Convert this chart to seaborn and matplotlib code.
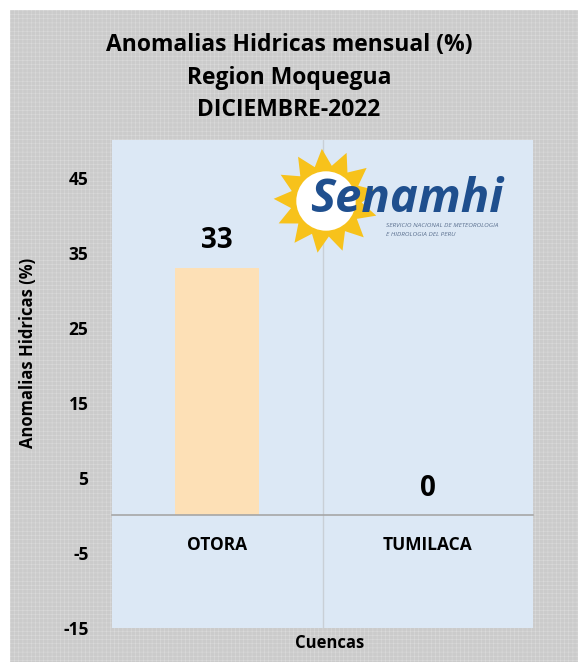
import numpy as np
import pandas as pd
import seaborn as sns
import matplotlib.pyplot as plt
from matplotlib.patches import Rectangle, Polygon, Circle

# data
cuencas = ['OTORA', 'TUMILACA']
anomalia = [33, 0]
yticks = [-15, -5, 5, 15, 25, 35, 45]

df = pd.DataFrame({'cuenca': cuencas, 'anomalia': anomalia})

sns.set_theme(style='white')
plt.rcParams['font.family'] = ['Open Sans', 'DejaVu Sans']
plt.rcParams['hatch.linewidth'] = 0.4
plt.rcParams['text.color'] = 'black'
plt.rcParams['axes.labelcolor'] = 'black'
plt.rcParams['ytick.color'] = 'black'
plt.rcParams['xtick.color'] = 'black'

fig = plt.figure(figsize=(5.78, 6.62), dpi=100)
fig.patch.set_facecolor('white')

# gray textured frame
frame = Rectangle((10 / 578, 0), 1, 1 - 10 / 662, transform=fig.transFigure,
                  facecolor='#cbcbcb', edgecolor='#dadada', hatch='++++',
                  linewidth=0, zorder=-10)
fig.patches.append(frame)

ax = fig.add_axes([112 / 578, 34 / 662, 421 / 578, 488 / 662])
ax.set_facecolor('#dce8f5')

sns.barplot(data=df, x='cuenca', y='anomalia', color='#fde0b6',
            width=0.4, saturation=1, ax=ax, zorder=3, edgecolor='none')

ax.set_ylim(-15, 50)
ax.set_xlim(-0.5, 1.5)
ax.set_yticks(yticks)
ax.set_yticklabels([str(t) for t in yticks], fontsize=12.5, fontweight='bold')
ax.tick_params(axis='y', length=0, pad=17)

for s in ['top', 'right', 'left']:
    ax.spines[s].set_visible(False)
ax.spines['bottom'].set_position(('data', 0))
ax.spines['bottom'].set_color('#a6a6a6')
ax.spines['bottom'].set_linewidth(1.2)
ax.spines['bottom'].set_zorder(4)
ax.tick_params(axis='x', length=0, pad=15)
for lbl in ax.get_xticklabels():
    lbl.set_fontsize(12.5)
    lbl.set_fontweight('bold')
ax.axvline(0.5, color='#c9cfd6', linewidth=1, zorder=1)

ax.bar_label(ax.containers[0], labels=[str(v) for v in anomalia],
             padding=9, fontsize=20, fontweight='bold', color='black')

ax.set_xlabel('')
ax.set_ylabel('Anomalias Hidricas (%)', fontsize=12, fontweight='bold')
ax.yaxis.set_label_coords(-0.178, 0.564)

fig.text(330 / 578, 1 - 643 / 662, 'Cuencas', ha='center', va='center',
         fontsize=12, fontweight='bold')

titles = ['Anomalias Hidricas mensual (%)', 'Region Moquegua', 'DICIEMBRE-2022']
for i, t in enumerate(titles):
    fig.text(289 / 578, 1 - (45 + 32.5 * i) / 662, t, ha='center', va='center',
             fontsize=16.5, fontweight='bold')

# Senamhi logo
lax = fig.add_axes([272 / 578, 1 - 255 / 662, 108 / 578, 108 / 662])
lax.set_xlim(-1, 1)
lax.set_ylim(-1, 1)
lax.set_aspect('equal')
lax.axis('off')
n = 13
ang = np.linspace(0, 2 * np.pi, 2 * n, endpoint=False) + 0.2
rad = np.where(np.arange(2 * n) % 2 == 0, 0.97, 0.66)
lax.add_patch(Polygon(np.c_[rad * np.cos(ang), rad * np.sin(ang)],
                      closed=True, facecolor='#f7c21b', edgecolor='none'))
lax.add_patch(Circle((0, 0), 0.55, facecolor='white', edgecolor='none'))
fig.text(310 / 578, 1 - 212 / 662, 'Senamhi', ha='left', va='baseline',
         fontsize=34, fontweight='bold', style='italic', color='#1f4f8e')
fig.text(386 / 578, 1 - 226 / 662, 'SERVICIO NACIONAL DE METEOROLOGIA',
         fontsize=4.6, style='italic', color='#5a6f8e', va='center')
fig.text(386 / 578, 1 - 234 / 662, 'E HIDROLOGIA DEL PERU',
         fontsize=4.6, style='italic', color='#5a6f8e', va='center')

fig.savefig('out.png', dpi=100)
